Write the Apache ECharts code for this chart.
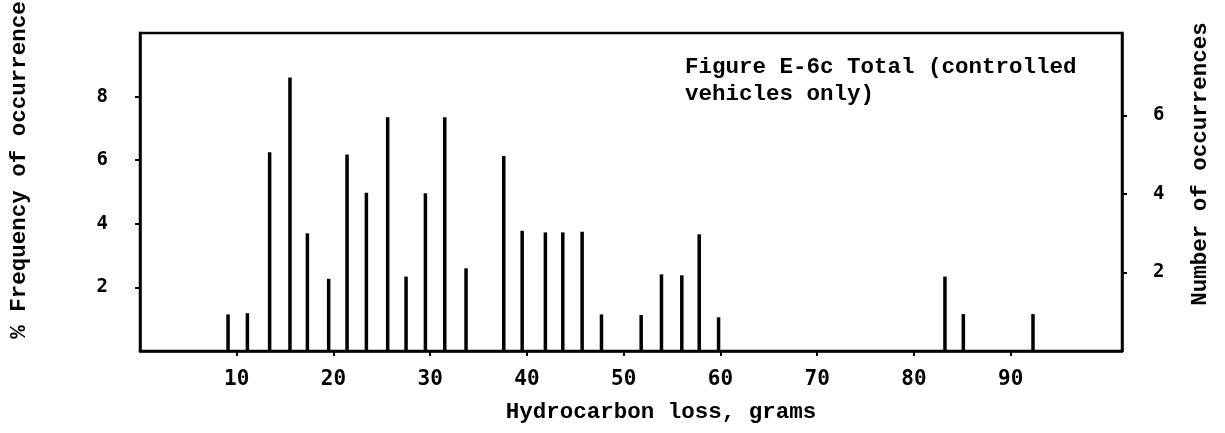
<!DOCTYPE html>
<html>
<head>
<meta charset="utf-8">
<script src="https://cdn.jsdelivr.net/npm/echarts@6/dist/echarts.min.js"></script>
<style>
  html, body { margin: 0; padding: 0; background: #fff; }
  #chart { width: 1225px; height: 433px; }
</style>
</head>
<body>
<div id="chart"></div>
<script>
// Hydrocarbon loss class values (grams) and % frequency of occurrence
const hcLoss = [9.1, 11.1, 13.4, 15.5, 17.3, 19.5, 21.4, 23.4, 25.6, 27.5, 29.5, 31.5, 33.7,
                37.6, 39.5, 41.9, 43.7, 45.7, 47.7, 51.8, 53.9, 56.0, 57.8, 59.8, 83.2, 85.1, 92.3];
const pctFreq = [1.15, 1.19, 6.25, 8.6, 3.7, 2.27, 6.18, 4.98, 7.35, 2.34, 4.96, 7.35, 2.6,
                 6.13, 3.78, 3.73, 3.73, 3.75, 1.15, 1.13, 2.41, 2.38, 3.67, 1.06, 2.34, 1.16, 1.16];

// Tick labels
const xTicks = [10, 20, 30, 40, 50, 60, 70, 80, 90];
const pctTicks = [2, 4, 6, 8];
const countTicks = [2, 4, 6];

const numFont = { fontFamily: 'DejaVu Sans Mono', fontWeight: 'bold', color: '#000' };
const textFont = 'bold 22.5px "Liberation Mono"';

const chart = echarts.init(document.getElementById('chart'), null, { renderer: 'canvas' });

chart.setOption({
  backgroundColor: '#fff',
  animation: false,
  grid: {
    left: 140, top: 33, right: 103, bottom: 82,
    show: true, borderColor: '#000', borderWidth: 2.5, backgroundColor: 'transparent'
  },
  xAxis: {
    type: 'value', min: 0, max: 101.5,
    splitLine: { show: false },
    axisLine: { show: true, lineStyle: { color: '#000', width: 2.5 } },
    axisTick: { show: true, length: 5, customValues: xTicks, lineStyle: { color: '#000', width: 2 } },
    axisLabel: { customValues: xTicks, margin: 18, fontSize: 21, ...numFont }
  },
  yAxis: [
    {
      type: 'value', min: 0, max: 10, position: 'left',
      splitLine: { show: false },
      axisLine: { show: true, lineStyle: { color: '#000', width: 2.5 } },
      axisTick: { show: true, length: 5, customValues: pctTicks, lineStyle: { color: '#000', width: 2 } },
      axisLabel: { customValues: pctTicks, margin: 32, fontSize: 19, ...numFont }
    },
    {
      type: 'value', min: 0, max: 8.1, position: 'right',
      splitLine: { show: false },
      axisLine: { show: true, lineStyle: { color: '#000', width: 2.5 } },
      axisTick: { show: true, length: 5, customValues: countTicks, lineStyle: { color: '#000', width: 2 } },
      axisLabel: { customValues: countTicks, margin: 31, fontSize: 19, ...numFont }
    }
  ],
  series: [
    {
      type: 'bar',
      yAxisIndex: 0,
      barWidth: 3.5,
      itemStyle: { color: '#000' },
      data: hcLoss.map((x, i) => [x, pctFreq[i]])
    }
  ],
  graphic: [
    {
      type: 'text', left: 685, top: 54,
      style: { text: 'Figure E-6c Total (controlled\nvehicles only)', font: textFont, fill: '#000', lineHeight: 27 }
    },
    {
      type: 'text', x: 661, y: 412,
      style: { text: 'Hydrocarbon loss, grams', font: textFont, fill: '#000', align: 'center', verticalAlign: 'middle' }
    },
    {
      type: 'text', x: 19, y: 170, rotation: Math.PI / 2,
      style: { text: '% Frequency of occurrence', font: textFont, fill: '#000', align: 'center', verticalAlign: 'middle' }
    },
    {
      type: 'text', x: 1200, y: 164, rotation: Math.PI / 2,
      style: { text: 'Number of occurrences', font: textFont, fill: '#000', align: 'center', verticalAlign: 'middle' }
    }
  ]
});
</script>
</body>
</html>
